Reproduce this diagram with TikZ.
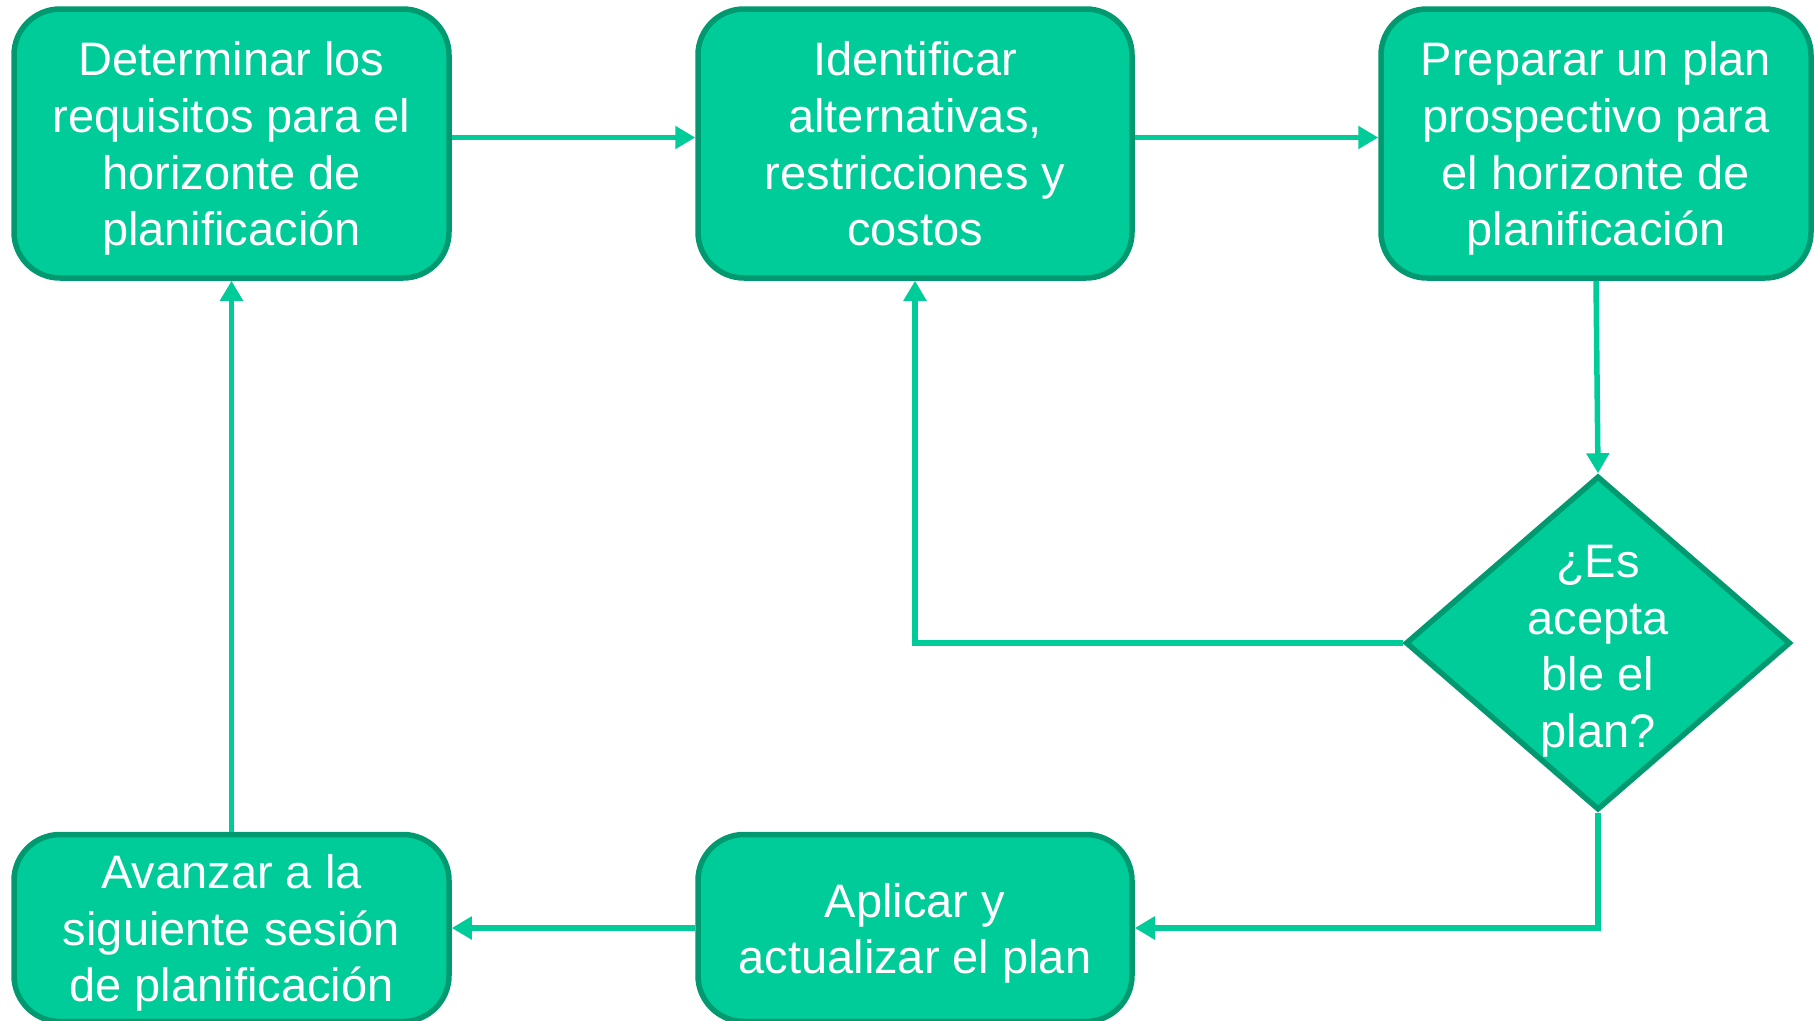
\documentclass[tikz,border=0pt]{standalone}
\usepackage{fontspec}
\setmainfont{Liberation Sans}
\usetikzlibrary{arrows.meta,shapes.geometric}
\definecolor{boxfill}{RGB}{0,204,153}
\definecolor{boxline}{RGB}{0,153,112}
\definecolor{arrcol}{RGB}{0,204,153}
\newcommand{\myTop}{\rule{0pt}{51.6pt}}
\newcommand{\myBot}{\rule[-17pt]{0pt}{17pt}}
\tikzset{
  stepbox/.style={draw=boxline, fill=boxfill, line width=5.5pt, rounded corners=46pt,
    text=white, align=center, inner sep=0pt,
    font=\fontsize{47}{56.6}\selectfont},
  decbox/.style={draw=boxline, fill=boxfill, line width=5.5pt, shape=diamond, inner sep=0pt,
    minimum width=385pt, minimum height=334pt},
  txt/.style={text=white, align=center, inner sep=0pt, font=\fontsize{47}{56.6}\selectfont},
  arr/.style={draw=arrcol, line width=5.5pt, -{Triangle[length=20pt,width=22pt]}}
}
\begin{document}
\begin{tikzpicture}[x=1pt,y=-1pt]
\useasboundingbox (0,0) rectangle (1814,1020);
\node[stepbox, minimum width=435pt, minimum height=269pt] (b1) at (231.5,143.5)
  {\myTop Determinar los\\requisitos para el\\horizonte de\\planificación\myBot};
\node[stepbox, minimum width=434pt, minimum height=269pt] (b2) at (915,143.5)
  {\myTop Identificar\\alternativas,\\restricciones y\\costos\myBot};
\node[stepbox, minimum width=430pt, minimum height=269pt] (b3) at (1596,143.5)
  {\myTop Preparar un plan\\prospectivo para\\el horizonte de\\planificación\myBot};
\node[decbox] (d) at (1598,643) {};
\node[txt] (dt) at (1598,645) {\myTop ¿Es\\acepta\\ble el\\plan?\myBot};
\node[stepbox, minimum width=435pt, minimum height=187pt] (b4) at (231.5,928)
  {\myTop Avanzar a la\\siguiente sesión\\de planificación\myBot};
\node[stepbox, minimum width=434pt, minimum height=187pt] (b5) at (915,928)
  {\myTop Aplicar y\\actualizar el plan\myBot};

\draw[arr] ([yshift=6pt]b1.east) -- ([yshift=6pt]b2.west);
\draw[arr] ([yshift=6pt]b2.east) -- ([yshift=6pt]b3.west);
\draw[arr] (b3.south) -- (d.north);
\draw[arr] (d.west) -| (b2.south);
\draw[arr] (d.south) |- (b5.east);
\draw[arr] (b5.west) -- (b4.east);
\draw[arr] (b4.north) -- (b1.south);
\end{tikzpicture}
\end{document}
